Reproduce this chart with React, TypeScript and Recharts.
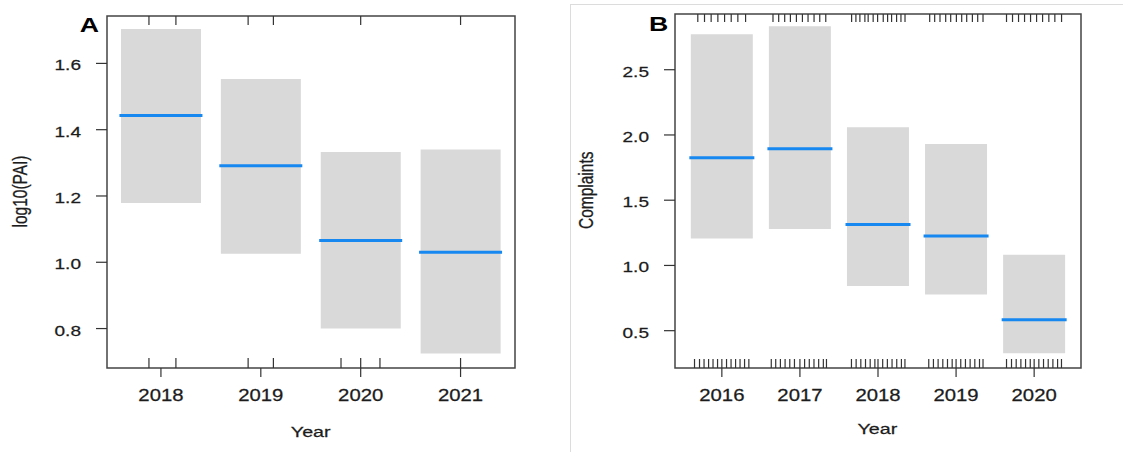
import { ComposedChart, Bar, Scatter, XAxis, YAxis, ReferenceArea } from 'recharts'

// Panel A: log10(PAI) by year
const yearsA = ['2018', '2019', '2020', '2021']
const lowerA = [1.179, 1.026, 0.8, 0.725]
const upperA = [1.704, 1.553, 1.333, 1.34]
const medianA = [1.443, 1.291, 1.066, 1.03]
const yTicksA = [0.8, 1.0, 1.2, 1.4, 1.6]
const rugTopA = [0.88, 1.15, 1.873, 2.126, 3.0, 4.0]
const rugBottomA = [0.88, 1.15, 1.873, 2.126, 2.803, 3.0, 3.193, 4.0]

// Panel B: complaints by year
const yearsB = ['2016', '2017', '2018', '2019', '2020']
const lowerB = [1.207, 1.279, 0.842, 0.778, 0.327]
const upperB = [2.771, 2.833, 2.059, 1.931, 1.082]
const medianB = [1.826, 1.895, 1.314, 1.225, 0.584]
const yTicksB = [0.5, 1.0, 1.5, 2.0, 2.5]
const rugTopB = [
  0.692, 0.778, 0.863, 0.949, 1.035, 1.12, 1.205, 1.304,
  1.655, 1.728, 1.805, 1.878, 1.955, 2.032, 2.104, 2.181, 2.254, 2.331,
  2.662, 2.717, 2.768, 2.832, 2.874, 2.938, 2.995, 3.067, 3.123, 3.174, 3.238, 3.294, 3.346,
  3.662, 3.726, 3.794, 3.867, 3.931, 4.004, 4.072, 4.136, 4.209, 4.277, 4.345,
  4.646, 4.723, 4.8, 4.877, 4.954, 5.031, 5.108, 5.188, 5.265, 5.351,
]
const rugBottomB = [
  0.65, 0.714, 0.772, 0.83, 0.887, 0.945, 1.0, 1.06, 1.118, 1.176, 1.233, 1.291, 1.346,
  1.633, 1.69, 1.75, 1.81, 1.87, 1.93, 2.0, 2.06, 2.12, 2.18, 2.24, 2.3, 2.34,
  2.66, 2.72, 2.78, 2.84, 2.9, 2.96, 3.0, 3.06, 3.12, 3.18, 3.24, 3.3, 3.345,
  3.65, 3.71, 3.77, 3.83, 3.89, 3.95, 4.0, 4.06, 4.12, 4.18, 4.24, 4.3, 4.345,
  4.646, 4.71, 4.77, 4.83, 4.89, 4.95, 5.0, 5.06, 5.12, 5.18, 5.24, 5.3, 5.35,
]

const FONT = '"Liberation Sans", Arial, sans-serif'
const STRETCH = 1.27
const TEXT = '#1c1c1c'

interface PanelProps {
  years: string[]
  lower: number[]
  upper: number[]
  median: number[]
  yTicks: number[]
  xDomain: [number, number]
  yDomain: [number, number]
  rugTop: number[]
  rugBottom: number[]
  width: number
  margin: { top: number; right: number; bottom: number; left: number }
  barSize: number
  topRugLen: number
  bottomRugLen: number
}

function Panel(props: PanelProps) {
  const { years, lower, upper, median, yTicks, xDomain, yDomain, rugTop, rugBottom } = props
  const rows = years.map((_, i) => ({ x: i + 1, range: [lower[i], upper[i]], median: median[i] }))
  const topRug = rugTop.map(x => ({ x, y: yDomain[1] }))
  const bottomRug = rugBottom.map(x => ({ x, y: yDomain[0] }))
  const half = props.barSize / 2 + 1.5

  return (
    <ComposedChart width={props.width} height={452} data={rows} margin={props.margin}>
      <XAxis
        type="number"
        dataKey="x"
        domain={xDomain}
        allowDataOverflow
        ticks={years.map((_, i) => i + 1)}
        interval={0}
        axisLine={false}
        tickSize={9}
        tickMargin={2}
        height={30}
        tickLine={{ stroke: '#333', strokeWidth: 1.2 }}
        tick={(p: any) => (
          <text
            transform={`translate(${p.x},${p.y + 22}) scale(${STRETCH},1)`}
            textAnchor="middle"
            fontFamily={FONT}
            fontSize={16}
            fill={TEXT}
            stroke={TEXT}
            strokeWidth={0.25}
          >
            {years[Math.round(p.payload.value) - 1]}
          </text>
        )}
      />
      {/* hidden twin axis for the rugs so they don't shrink the bar band */}
      <XAxis xAxisId="rug" type="number" dataKey="x" domain={xDomain} allowDataOverflow hide />
      <YAxis
        type="number"
        domain={yDomain}
        allowDataOverflow
        ticks={yTicks}
        interval={0}
        axisLine={false}
        tickSize={11}
        tickMargin={15}
        width={60}
        tickLine={{ stroke: '#333', strokeWidth: 1.2 }}
        tick={(p: any) => (
          <text
            transform={`translate(${p.x},${p.y + 7}) scale(${STRETCH},1)`}
            textAnchor="end"
            fontFamily={FONT}
            fontSize={15}
            fill={TEXT}
            stroke={TEXT}
            strokeWidth={0.25}
          >
            {Number(p.payload.value).toFixed(1)}
          </text>
        )}
      />
      <Bar dataKey="range" fill="#d9d9d9" barSize={props.barSize} isAnimationActive={false} />
      <Scatter
        data={rows}
        dataKey="median"
        isAnimationActive={false}
        shape={(p: any) => (
          <line x1={p.cx - half} x2={p.cx + half} y1={p.cy} y2={p.cy} stroke="#1688f0" strokeWidth={3} />
        )}
      />
      <Scatter
        xAxisId="rug"
        data={topRug}
        dataKey="y"
        isAnimationActive={false}
        shape={(p: any) => (
          <line x1={p.cx} x2={p.cx} y1={p.cy} y2={p.cy + props.topRugLen} stroke="#333" strokeWidth={1.2} />
        )}
      />
      <Scatter
        xAxisId="rug"
        data={bottomRug}
        dataKey="y"
        isAnimationActive={false}
        shape={(p: any) => (
          <line x1={p.cx} x2={p.cx} y1={p.cy} y2={p.cy - props.bottomRugLen} stroke="#333" strokeWidth={1.2} />
        )}
      />
      <ReferenceArea
        x1={xDomain[0]}
        x2={xDomain[1]}
        y1={yDomain[0]}
        y2={yDomain[1]}
        ifOverflow="visible"
        fill="none"
        fillOpacity={0}
        stroke="#444"
        strokeWidth={1.5}
      />
    </ComposedChart>
  )
}

export default function App() {
  return (
    <div style={{ position: 'absolute', left: 0, top: 0, width: 1123, height: 452, background: '#fff' }}>
      <div style={{ position: 'absolute', left: 0, top: 0 }}>
        <Panel
          years={yearsA}
          lower={lowerA}
          upper={upperA}
          median={medianA}
          yTicks={yTicksA}
          xDomain={[0.46, 4.545]}
          yDomain={[0.681, 1.743]}
          rugTop={rugTopA}
          rugBottom={rugBottomA}
          width={560}
          margin={{ top: 16, right: 45, bottom: 54, left: 47 }}
          barSize={80}
          topRugLen={9}
          bottomRugLen={10}
        />
      </div>
      <div style={{ position: 'absolute', left: 560, top: 0 }}>
        <Panel
          years={yearsB}
          lower={lowerB}
          upper={upperB}
          median={medianB}
          yTicks={yTicksB}
          xDomain={[0.4, 5.6]}
          yDomain={[0.214, 2.927]}
          rugTop={rugTopB}
          rugBottom={rugBottomB}
          width={563}
          margin={{ top: 14, right: 42, bottom: 54, left: 55 }}
          barSize={62}
          topRugLen={8}
          bottomRugLen={9}
        />
      </div>
      <svg
        width={1123}
        height={452}
        style={{ position: 'absolute', left: 0, top: 0, pointerEvents: 'none' }}
      >
        <line x1={570.5} x2={570.5} y1={4} y2={452} stroke="#dcdcdc" strokeWidth={1} />
        <line x1={570} x2={1123} y1={4.5} y2={4.5} stroke="#dcdcdc" strokeWidth={1} />
        <g fontFamily={FONT} fill="#000">
          <text transform={`translate(89.3,32) scale(${STRETCH},1)`} textAnchor="middle" fontSize={21} fontWeight="bold">A</text>
          <text transform={`translate(658.7,30.5) scale(${STRETCH},1)`} textAnchor="middle" fontSize={21} fontWeight="bold">B</text>
        </g>
        <g fontFamily={FONT} fill={TEXT} stroke={TEXT} strokeWidth={0.25} fontSize={15.5}>
          <text transform={`translate(27,191.5) scale(${STRETCH},1) rotate(-90)`} textAnchor="middle">log10(PAI)</text>
          <text transform={`translate(592.5,190.3) scale(${STRETCH},1) rotate(-90)`} textAnchor="middle">Complaints</text>
          <text transform={`translate(310.7,437) scale(${STRETCH},1)`} textAnchor="middle">Year</text>
          <text transform={`translate(877.4,434) scale(${STRETCH},1)`} textAnchor="middle">Year</text>
        </g>
      </svg>
    </div>
  )
}
